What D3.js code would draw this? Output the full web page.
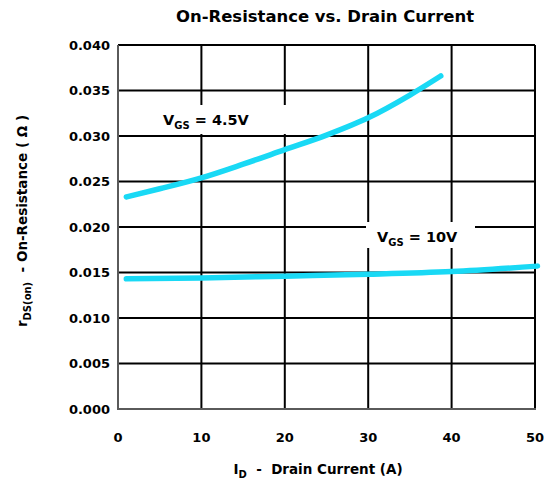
<!DOCTYPE html>
<html>
<head>
<meta charset="utf-8">
<script src="https://cdn.jsdelivr.net/npm/d3@7/dist/d3.min.js"></script>
<style>
  html, body { margin: 0; padding: 0; background: #fff; }
  svg { display: block; }
  text { font-family: "DejaVu Sans", "Liberation Sans", sans-serif; font-weight: bold; fill: #000; }
</style>
</head>
<body>
<svg id="chart" width="544" height="488"></svg>
<script>
// Drain current (A) and on-resistance (ohm) samples for each gate voltage
const currentVgs45 = [1, 5, 10, 15, 20, 25, 30, 35, 38.7];
const resistVgs45 = [0.0233, 0.0242, 0.0254, 0.0269, 0.0285, 0.0301, 0.0320, 0.0345, 0.0366];
const currentVgs10 = [1, 10, 20, 30, 40, 50.3];
const resistVgs10 = [0.0143, 0.0144, 0.0146, 0.0148, 0.0151, 0.0157];

const xTicks = [0, 10, 20, 30, 40, 50];
const yTicks = [0, 0.005, 0.010, 0.015, 0.020, 0.025, 0.030, 0.035, 0.040];

const svg = d3.select("#chart");
const plotL = 118, plotR = 535, plotT = 45, plotB = 409;

const x = d3.scaleLinear().domain([0, 50]).range([plotL, plotR]);
const y = d3.scaleLinear().domain([0, 0.04]).range([plotB, plotT]);

// Grid
const grid = svg.append("g");
grid.selectAll("line.h").data(yTicks.filter(d => d > 0)).join("line")
  .attr("x1", plotL).attr("x2", plotR)
  .attr("y1", d => y(d)).attr("y2", d => y(d))
  .attr("stroke", "#000").attr("stroke-width", 2);
grid.selectAll("line.v").data(xTicks.filter(d => d > 0)).join("line")
  .attr("x1", d => x(d)).attr("x2", d => x(d))
  .attr("y1", plotT).attr("y2", plotB)
  .attr("stroke", "#000").attr("stroke-width", 2);

// Axes frame (left and bottom)
svg.append("line").attr("x1", plotL).attr("x2", plotL).attr("y1", plotT).attr("y2", plotB + 1)
  .attr("stroke", "#5a5a5a").attr("stroke-width", 2);
svg.append("line").attr("x1", plotL).attr("x2", plotR + 1).attr("y1", plotB).attr("y2", plotB)
  .attr("stroke", "#5a5a5a").attr("stroke-width", 2);

// Tick labels
svg.append("g").selectAll("text").data(yTicks).join("text")
  .attr("x", plotL - 8).attr("y", d => y(d)).attr("dy", "0.36em")
  .attr("text-anchor", "end").attr("font-size", 13)
  .text(d => d3.format(".3f")(d));
svg.append("g").selectAll("text").data(xTicks).join("text")
  .attr("x", d => x(d)).attr("y", plotB + 33)
  .attr("text-anchor", "middle").attr("font-size", 13)
  .text(d => d);

// Curve labels with white backing (drawn under the curves)
function curveLabel(bx, by, w, h, tx, ty, sub, rest) {
  svg.append("rect").attr("x", bx).attr("y", by).attr("width", w).attr("height", h).attr("fill", "#fff");
  const t = svg.append("text").attr("x", tx).attr("y", ty).attr("font-size", 14.5);
  t.append("tspan").text("V");
  t.append("tspan").attr("font-size", 10).attr("dy", 4).text(sub);
  t.append("tspan").attr("dy", -4).text(rest);
}
curveLabel(168, 105, 120, 29, 163, 125, "GS", " = 4.5V");
curveLabel(366, 222, 109, 26, 377, 242, "GS", " = 10V");

// Curves
const line = d3.line().x(d => x(d[0])).y(d => y(d[1])).curve(d3.curveMonotoneX);
const series = [
  d3.zip(currentVgs45, resistVgs45),
  d3.zip(currentVgs10, resistVgs10)
];
svg.append("g").selectAll("path").data(series).join("path")
  .attr("d", line)
  .attr("fill", "none").attr("stroke", "#19d9f5")
  .attr("stroke-width", 5.5).attr("stroke-linecap", "round");

// Title
svg.append("text").attr("x", 325).attr("y", 22).attr("text-anchor", "middle")
  .attr("font-size", 15).attr("textLength", 298).attr("lengthAdjust", "spacingAndGlyphs")
  .text("On-Resistance vs. Drain Current");

// Axis titles
const xt = svg.append("text").attr("x", 318).attr("y", 474).attr("text-anchor", "middle")
  .attr("font-size", 13.5);
xt.append("tspan").text("I");
xt.append("tspan").attr("font-size", 10).attr("dy", 4).text("D");
xt.append("tspan").attr("dy", -4).text("\u00A0\u00A0-\u00A0\u00A0Drain Current (A)");

const yt = svg.append("text").attr("transform", "translate(27,221) rotate(-90)")
  .attr("text-anchor", "middle").attr("font-size", 13.5);
yt.append("tspan").text("r");
yt.append("tspan").attr("font-size", 10).attr("dy", 4).text("DS(on)");
yt.append("tspan").attr("dy", -4).text("\u00A0\u00A0-\u00A0On-Resistance ( \u03A9 )");
</script>
</body>
</html>
